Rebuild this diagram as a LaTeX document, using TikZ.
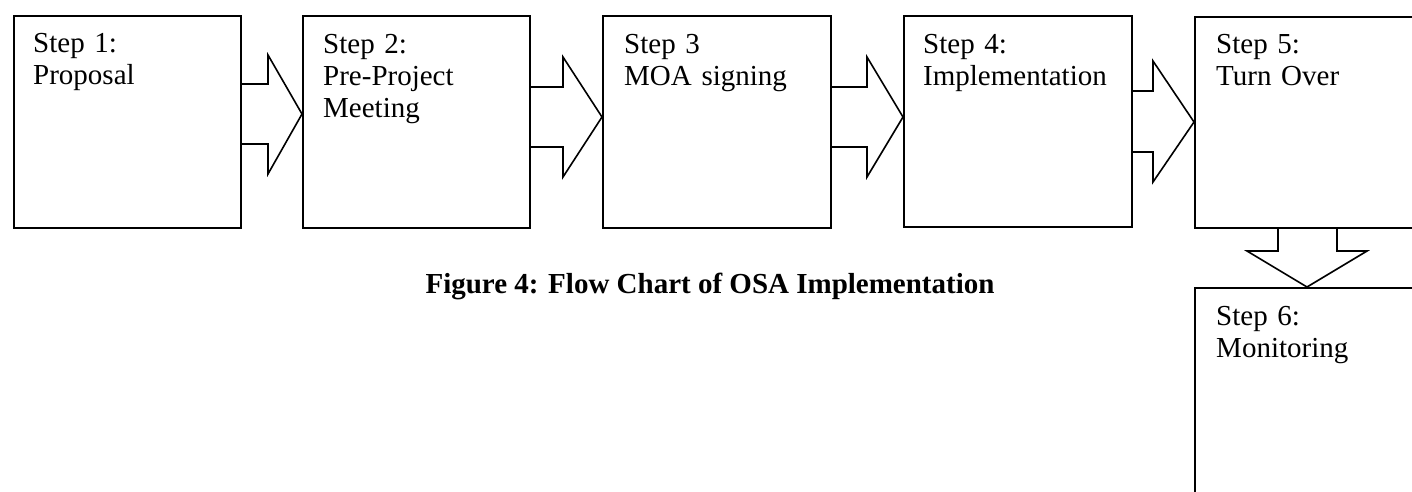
\documentclass[tikz,border=0pt]{standalone}
\usepackage{fontspec}
\setmainfont{Liberation Serif}
\begin{document}
\begin{tikzpicture}[x=1pt,y=-1pt,
  stepbox/.style={draw, line width=1.9pt, inner sep=0pt, anchor=north west},
  steptext/.style={anchor=base west, inner sep=0pt, text width=200pt, align=left,
    font=\fontsize{29}{32}\selectfont},
  blockarr/.style={draw, line width=1.6pt, line join=miter},
  captext/.style={anchor=base, inner sep=0pt, font=\fontsize{29}{32}\selectfont\bfseries}]
\clip (0,0) rectangle (1412,491);
\fill[white] (0,0) rectangle (1412,491);
% boxes
\node[stepbox, minimum width=227pt, minimum height=212pt] (b1) at (13,15) {};
\node[stepbox, minimum width=227pt, minimum height=212pt] (b2) at (302,15) {};
\node[stepbox, minimum width=228pt, minimum height=212pt] (b3) at (602,15) {};
\node[stepbox, minimum width=228pt, minimum height=211pt] (b4) at (903,15) {};
\node[stepbox, minimum width=240pt, minimum height=211pt] (b5) at (1194,16) {};
\node[stepbox, minimum width=240pt, minimum height=230pt] (b6) at (1194,287) {};
% texts
\node[steptext] (t1) at ([shift={(20,37)}]b1.north west) {Step 1:\\Proposal};
\node[steptext] (t2) at ([shift={(21,38)}]b2.north west) {Step 2:\\Pre-Project\\Meeting};
\node[steptext] (t3) at ([shift={(22,38)}]b3.north west) {Step 3\\MOA signing};
\node[steptext] (t4) at ([shift={(20,38)}]b4.north west) {Step 4:\\Implementation};
\node[steptext] (t5) at ([shift={(22,37)}]b5.north west) {Step 5:\\Turn Over};
\node[steptext] (t6) at ([shift={(22,38)}]b6.north west) {Step 6:\\Monitoring};
% block arrows
\draw[blockarr] (b1.east |- 0,84) -| (268,55) -- (b2.west |- 0,114) -- (268,174) |- (b1.east |- 0,144);
\draw[blockarr] (b2.east |- 0,87) -| (563,57) -- (b3.west |- 0,117) -- (563,177) |- (b2.east |- 0,147);
\draw[blockarr] (b3.east |- 0,87) -| (867,57) -- (b4.west |- 0,117) -- (867,177) |- (b3.east |- 0,147);
\draw[blockarr] (b4.east |- 0,91) -| (1153,61) -- (b5.west |- 0,122) -- (1153,182) |- (b4.east |- 0,152);
\draw[blockarr] (1278,0 |- b5.south) |- (1247,251) -- (1307,0 |- b6.north) -- (1367,251) -| (1337,0 |- b5.south);
% caption
\node[captext] (cap) at (710,293) {Figure 4: Flow Chart of OSA Implementation};
\end{tikzpicture}
\end{document}
